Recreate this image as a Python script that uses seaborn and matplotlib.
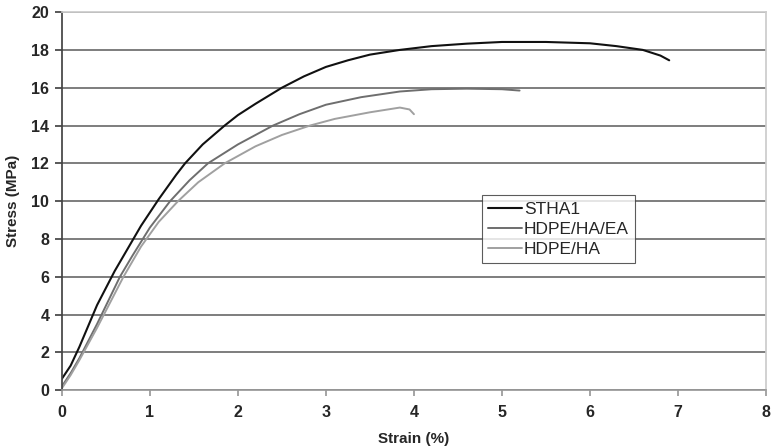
import numpy as np
import pandas as pd
import matplotlib
matplotlib.use("Agg")
import matplotlib.pyplot as plt
import seaborn as sns

sns.set_theme(style="white")
plt.rcParams["font.family"] = ["Liberation Sans", "DejaVu Sans"]

# ------------------------------------------------------------------
# DATA
# ------------------------------------------------------------------
stha1_strain = [0, 0.1, 0.2, 0.3, 0.4, 0.5, 0.6, 0.7, 0.8, 0.9, 1.0, 1.1, 1.2, 1.3,
                1.4, 1.5, 1.6, 1.7, 1.85, 2.0, 2.2, 2.5, 2.75, 3.0, 3.25, 3.5, 3.84,
                4.2, 4.6, 5.0, 5.5, 6.0, 6.3, 6.6, 6.8, 6.9]
stha1_stress = [0.6, 1.3, 2.3, 3.4, 4.5, 5.4, 6.3, 7.1, 7.9, 8.7, 9.4, 10.1, 10.75, 11.4,
                12.0, 12.5, 13.0, 13.4, 14.0, 14.55, 15.15, 16.0, 16.6, 17.1, 17.45, 17.75, 18.0,
                18.2, 18.33, 18.42, 18.42, 18.35, 18.2, 18.0, 17.7, 17.45]

ea_strain = [0, 0.1, 0.2, 0.4, 0.66, 0.8, 1.0, 1.23, 1.45, 1.66, 2.0, 2.4, 2.7,
             3.0, 3.4, 3.84, 4.2, 4.6, 5.0, 5.2]
ea_stress = [0.2, 0.9, 1.7, 3.5, 6.0, 7.1, 8.6, 10.0, 11.1, 12.0, 13.0, 14.0, 14.6,
             15.1, 15.5, 15.8, 15.92, 15.95, 15.92, 15.85]

ha_strain = [0, 0.1, 0.2, 0.4, 0.7, 0.9, 1.1, 1.32, 1.55, 1.85, 2.2, 2.5, 2.82,
             3.1, 3.5, 3.84, 3.95, 4.0]
ha_stress = [0.1, 0.8, 1.6, 3.3, 6.0, 7.6, 8.9, 10.0, 11.0, 12.0, 12.9, 13.5, 14.0,
             14.35, 14.7, 14.95, 14.85, 14.6]

series = [("STHA1", stha1_strain, stha1_stress, "#111111", 1.5),
          ("HDPE/HA/EA", ea_strain, ea_stress, "#6e6e6e", 1.4),
          ("HDPE/HA", ha_strain, ha_stress, "#a0a0a0", 1.4)]

# ------------------------------------------------------------------
# PLOT
# ------------------------------------------------------------------
fig = plt.figure(figsize=(7.73, 4.48), dpi=100)
ax = fig.add_axes([0.080, 0.129, 0.911, 0.844])

for name, x, y, col, lw in series:
    sns.lineplot(x=x, y=y, ax=ax, color=col, linewidth=lw, label=name,
                 sort=False, estimator=None)

ax.set_xlim(0, 8)
ax.set_ylim(0, 20)
ax.set_xticks(range(0, 9))
ax.set_yticks(range(0, 21, 2))
ax.yaxis.grid(True, color="#5a5a5a", linewidth=1.1)
ax.set_axisbelow(True)

for side in ["top", "right"]:
    ax.spines[side].set_color("#cccccc")
ax.spines["left"].set_color("#444444")
ax.spines["bottom"].set_color("#999999")

ax.tick_params(axis="y", left=True, length=5, color="#444444", labelsize=11.5, pad=4)
ax.tick_params(axis="x", bottom=True, length=4, color="#999999", labelsize=11.5, pad=7)
for lab in ax.get_xticklabels() + ax.get_yticklabels():
    lab.set_fontweight("bold")

ax.set_xlabel("Strain (%)", fontsize=11, fontweight="bold", labelpad=8)
ax.set_ylabel("Stress (MPa)", fontsize=11, fontweight="bold", labelpad=8)

leg = ax.legend(loc="upper left", bbox_to_anchor=(0.596, 0.515), fontsize=12.5,
                frameon=True, fancybox=False, handlelength=2.0,
                handletextpad=0.1, borderpad=0.35, labelspacing=0.28,
                borderaxespad=0)
leg.get_frame().set_edgecolor("#333333")
leg.get_frame().set_linewidth(0.8)

plt.savefig("out.png", dpi=100)
plt.close()
